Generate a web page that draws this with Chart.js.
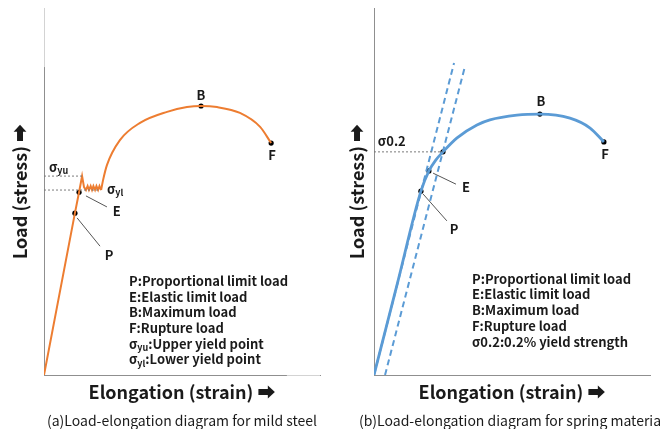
<!DOCTYPE html>
<html><head><meta charset="utf-8">
<script src="https://cdn.jsdelivr.net/npm/chart.js@4"></script>
<style>
html,body{margin:0;padding:0;background:#fff;width:660px;height:429px;overflow:hidden}
.panel{position:absolute;top:0;width:330px;height:429px}
canvas{display:block}
</style></head><body>
<div class="panel" style="left:0"><canvas id="chartA" width="330" height="429" style="width:330px;height:429px"></canvas></div>
<div class="panel" style="left:330px"><canvas id="chartB" width="330" height="429" style="width:330px;height:429px"></canvas></div>
<script>
// ---------- (a) mild steel ----------
const steelElasticX = [0, 11.2, 12.7, 13.8, 14.5, 15.2, 15.8, 16.3, 16.9, 17.4, 17.9, 18.5, 19.0, 19.6, 20.1, 20.7];
const steelElasticY = [0, 44.1, 49.8, 54.2, 51.2, 50.4, 51.5, 50.4, 51.5, 50.4, 51.5, 50.4, 51.5, 50.4, 51.5, 50.4];
const steelHardeningX = [20.7, 21.4, 22.8, 27.5, 34.8, 44.6, 51.8, 56.9, 62.7, 71.0, 78.3, 82.3];
const steelHardeningY = [50.4, 53.1, 57.2, 64.0, 68.7, 71.7, 73.0, 73.3, 73.0, 71.4, 67.6, 63.2];
const steelMarkX = [11.2, 12.7, 56.9, 82.3];
const steelMarkY = [44.1, 49.8, 73.3, 63.2];
const steelUpperYield = 54.2, steelUpperYieldEnd = 13.8;
const steelLowerYield = 50.4, steelLowerYieldEnd = 20.3;
const steelLeaderX = [[15.2, 22.8], [12.0, 20.3]];
const steelLeaderY = [[48.8, 45.8], [42.8, 35.1]];
const steelLabelText = ['B', 'F', 'E', 'P', ['σ', {sub: 'yu'}], ['σ', {sub: 'yl'}]];
const steelLabelX = [56.9, 82.6, 26.4, 23.6, 1.8, 22.8];
const steelLabelY = [76.3, 59.9, 44.7, 32.7, 56.7, 50.7];
const steelLegend = [
  ['P:Proportional limit load'],
  ['E:Elastic limit load'],
  ['B:Maximum load'],
  ['F:Rupture load'],
  ['σ', {sub: 'yu'}, ':Upper yield point'],
  ['σ', {sub: 'yl'}, ':Lower yield point']
];
const steelCaption = '(a)Load-elongation diagram for mild steel';

// ---------- (b) spring material ----------
const springCurveX = [0, 8.5, 17.0, 19.9, 22.3, 25.0, 30.1, 37.3, 42.0, 51.8, 60.1, 71.0, 78.3, 83.3];
const springCurveY = [0, 25.05, 50.1, 55.6, 58.5, 60.8, 64.6, 68.1, 69.5, 70.8, 71.1, 70.0, 67.3, 63.5];
const springOffsetX = [[0, 29.0], [4.0, 33.0]];
const springOffsetY = [[0, 85.0], [0, 84.2]];
const springMarkX = [17.0, 19.9, 25.0, 60.1, 83.3];
const springMarkY = [50.1, 55.6, 60.8, 71.1, 63.5];
const springProof = 60.8, springProofEnd = 25.0;
const springLeaderX = [[21.4, 29.7], [17.8, 26.4]];
const springLeaderY = [[55.0, 52.0], [49.3, 42.0]];
const springLabelText = ['B', 'F', 'E', 'P', ['σ0.2']];
const springLabelX = [60.5, 83.7, 33.3, 29.0, 1.4];
const springLabelY = [74.7, 60.2, 51.2, 39.8, 63.8];
const springLegend = [
  ['P:Proportional limit load'],
  ['E:Elastic limit load'],
  ['B:Maximum load'],
  ['F:Rupture load'],
  ['σ0.2:0.2% yield strength']
];
const springCaption = '(b)Load-elongation diagram for spring material';

const xTitle = 'Elongation (strain) ➡';
// rotated -90°, so the right-pointing arrow reads as an upward arrow
const yTitle = 'Load (stress) ➡';

// ---------- helpers ----------
const FONT = '"Noto Sans CJK JP", "Noto Sans", "DejaVu Sans", sans-serif';
const TXT = '#1a1a1a';
const AXIS = '#8f8f8f';
const ORANGE = '#ED7D31';
const BLUE = '#5B9BD5';

function pts(xs, ys) { return xs.map((x, i) => ({x: x, y: ys[i]})); }
function lineDs(data, color, width, dash, interp) {
  return {data: data, showLine: true, borderColor: color, backgroundColor: color, borderWidth: width,
    borderDash: dash || [], pointRadius: 0, pointHoverRadius: 0,
    cubicInterpolationMode: interp ? 'monotone' : 'default', tension: 0};
}
function markDs(xs, ys) {
  return {data: pts(xs, ys), showLine: false, pointRadius: 2.6, pointBackgroundColor: '#000',
    pointBorderWidth: 0, borderColor: '#000'};
}

function drawRich(ctx, parts, x, y, size, align) {
  const subSize = Math.round(size * 0.72);
  let total = 0;
  for (const p of parts) {
    ctx.font = (typeof p === 'string') ? `bold ${size}px ${FONT}` : `bold ${subSize}px ${FONT}`;
    total += ctx.measureText(typeof p === 'string' ? p : p.sub).width;
  }
  let cx = align === 'center' ? x - total / 2 : x;
  ctx.textAlign = 'left';
  ctx.textBaseline = 'middle';
  for (const p of parts) {
    if (typeof p === 'string') {
      ctx.font = `bold ${size}px ${FONT}`;
      ctx.fillText(p, cx, y);
      cx += ctx.measureText(p).width;
    } else {
      ctx.font = `bold ${subSize}px ${FONT}`;
      ctx.fillText(p.sub, cx, y + size * 0.28);
      cx += ctx.measureText(p.sub).width;
    }
  }
}

const textPlugin = {
  id: 'panelText',
  beforeDatasetsDraw(chart, args, o) {
    if (!o.lightAxis) return;
    const ctx = chart.ctx, xs = chart.scales.x, ys = chart.scales.y, a = chart.chartArea;
    const al = p => Math.round(p - 0.5) + 0.5;
    ctx.save();
    ctx.strokeStyle = '#d3d3d3';
    ctx.lineWidth = 1;
    ctx.beginPath();
    ctx.moveTo(al(a.left), a.top);
    ctx.lineTo(al(a.left), ys.getPixelForValue(o.lightAxis.y));
    ctx.moveTo(xs.getPixelForValue(o.lightAxis.x), al(a.bottom));
    ctx.lineTo(a.right, al(a.bottom));
    ctx.stroke();
    ctx.restore();
  },
  afterDatasetsDraw(chart, args, o) {
    const ctx = chart.ctx, xs = chart.scales.x, ys = chart.scales.y, a = chart.chartArea;
    ctx.save();
    ctx.fillStyle = TXT;
    o.labels.forEach((t, i) => {
      const parts = Array.isArray(t) ? t : [t];
      const align = Array.isArray(t) ? 'left' : 'center';
      drawRich(ctx, parts, xs.getPixelForValue(o.labelX[i]), ys.getPixelForValue(o.labelY[i]), 13, align);
    });
    const lx = xs.getPixelForValue(o.legendX);
    let ly = ys.getPixelForValue(o.legendY);
    o.legend.forEach(line => {
      drawRich(ctx, line, lx, ly, 13, 'left');
      ly += 15.7;
    });
    // caption, centred under the plot area (no width squeezing)
    ctx.font = `normal 14px ${FONT}`;
    ctx.textAlign = 'center';
    ctx.textBaseline = 'middle';
    ctx.fillText(o.caption, (a.left + a.right) / 2, a.bottom + 46);
    ctx.restore();
  }
};

function makeChart(id, datasets, cfg) {
  return new Chart(document.getElementById(id), {
    type: 'scatter',
    data: {datasets: datasets},
    plugins: [textPlugin],
    options: {
      responsive: false,
      animation: false,
      devicePixelRatio: 1,
      layout: {padding: {left: 0, right: 10, top: 8, bottom: 24.8}},
      scales: {
        x: {type: 'linear', min: 0, max: 100,
          ticks: {display: false}, grid: {display: false, drawTicks: false},
          border: {display: true, color: AXIS, width: 1},
          title: {display: true, text: xTitle, color: TXT,
            font: {family: FONT, size: 18, weight: 'bold', lineHeight: 1.2},
            padding: {top: 6.2, bottom: 1.4}}},
        y: {type: 'linear', min: 0, max: 100,
          ticks: {display: false}, grid: {display: false, drawTicks: false},
          border: {display: true, color: AXIS, width: 1},
          title: {display: true, text: yTitle, color: TXT,
            font: {family: FONT, size: 18, weight: 'bold', lineHeight: 1.2},
            padding: cfg.yPad}}
      },
      plugins: {
        legend: {display: false},
        tooltip: {enabled: false},
        title: {display: false},
        panelText: cfg.text
      }
    }
  });
}

// ---------- chart (a) ----------
makeChart('chartA', [
  lineDs(pts([0, steelUpperYieldEnd], [steelUpperYield, steelUpperYield]), '#7a7a7a', 1, [2, 2]),
  lineDs(pts([0, steelLowerYieldEnd], [steelLowerYield, steelLowerYield]), '#7a7a7a', 1, [2, 2]),
  lineDs(pts(steelLeaderX[0], steelLeaderY[0]), '#555', 1),
  lineDs(pts(steelLeaderX[1], steelLeaderY[1]), '#555', 1),
  lineDs(pts(steelElasticX, steelElasticY), ORANGE, 2),
  lineDs(pts(steelHardeningX, steelHardeningY), ORANGE, 2, null, true),
  markDs(steelMarkX, steelMarkY)
], {
  yPad: {top: 9.2, bottom: 13.2},
  text: {labels: steelLabelText, labelX: steelLabelX, labelY: steelLabelY, caption: steelCaption,
    legend: steelLegend, legendX: 30.8, legendY: 25.6, lightAxis: {y: 83.9, x: 88.0}}
});

// ---------- chart (b) ----------
makeChart('chartB', [
  lineDs(pts([0, springProofEnd], [springProof, springProof]), '#7a7a7a', 1, [2, 2]),
  lineDs(pts(springLeaderX[0], springLeaderY[0]), '#555', 1),
  lineDs(pts(springLeaderX[1], springLeaderY[1]), '#555', 1),
  lineDs(pts(springOffsetX[0], springOffsetY[0]), BLUE, 2, [6, 4]),
  lineDs(pts(springOffsetX[1], springOffsetY[1]), BLUE, 2, [6, 4]),
  lineDs(pts(springCurveX, springCurveY), BLUE, 2.8, null, true),
  markDs(springMarkX, springMarkY)
], {
  yPad: {top: 16.7, bottom: 5.7},
  text: {labels: springLabelText, labelX: springLabelX, labelY: springLabelY, caption: springCaption,
    legend: springLegend, legendX: 35.5, legendY: 26.2}
});
</script></body></html>
